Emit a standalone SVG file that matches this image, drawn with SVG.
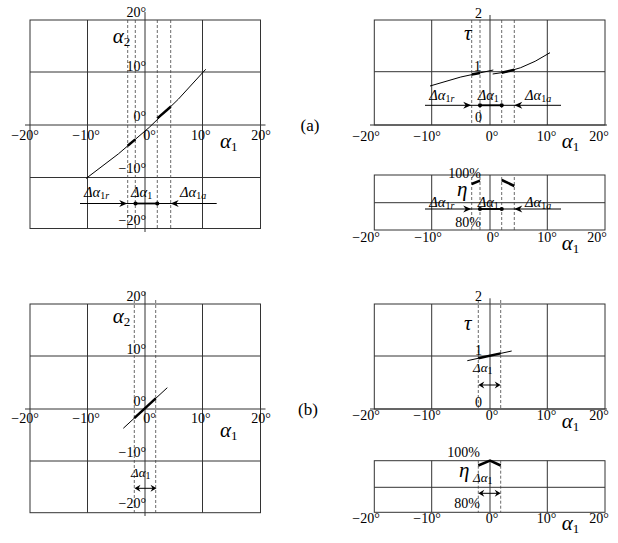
<svg xmlns="http://www.w3.org/2000/svg" xmlns:xlink="http://www.w3.org/1999/xlink" width="618" height="543" viewBox="0 0 618 543">
<style>
.g{stroke:#333;stroke-width:1;fill:none}
.d{stroke:#444;stroke-width:0.8;stroke-dasharray:3,2;fill:none}
.c{stroke:#000;stroke-width:1;fill:none}
.k{stroke:#000;stroke-width:2.5;fill:none}
.m{stroke:#000;stroke-width:1.8;fill:none}
text{font-family:'Liberation Serif','Times New Roman',Times,serif;fill:#000}
.n{font-size:14px}
.pl{font-size:17px}
.gk{font-style:italic;font-size:21px}
.lb{font-style:italic;font-size:14.5px}
.ls{font-style:italic;font-size:13px}
.sub{font-style:normal;font-size:10px}
.subi{font-style:italic;font-size:10px}
.bsub{font-style:normal;font-size:13px}
</style>
<defs>
<path id="ar" d="M0,0 L-8,-3.5 L-5.5,0 L-8,3.5 Z" fill="#000"/>
<path id="sa" d="M0,0 L-6,-3.5 L-4,0 L-6,3.5 Z" fill="#000"/>
</defs>

<!-- Panel a: alpha2 vs alpha1 -->
<g id="panel-a-alpha">
<rect class="g" x="30" y="20" width="230.5" height="208.5"/>
<line class="g" x1="87.5" y1="20" x2="87.5" y2="228.5"/>
<line class="g" x1="202.5" y1="20" x2="202.5" y2="228.5"/>
<line class="g" x1="30" y1="72" x2="260.5" y2="72"/>
<line class="g" x1="30" y1="177.5" x2="260.5" y2="177.5"/>
<line class="g" x1="145" y1="12" x2="145" y2="232"/>
<line class="g" x1="25" y1="125" x2="265.5" y2="125"/>
<line class="d" x1="127.7" y1="20" x2="127.7" y2="228.5"/>
<line class="d" x1="135.3" y1="20" x2="135.3" y2="228.5"/>
<line class="d" x1="157.3" y1="20" x2="157.3" y2="228.5"/>
<line class="d" x1="170.7" y1="20" x2="170.7" y2="228.5"/>
<path class="c" d="M86,178.5 Q152.5,131 205.7,69.3"/>
<line class="k" x1="127.7" y1="145.7" x2="135.3" y2="139.4"/>
<line class="k" x1="157.3" y1="118.4" x2="170.7" y2="106.7"/>
<text class="n" x="146" y="17" text-anchor="end">20°</text>
<text class="n" x="146" y="70.5" text-anchor="end">10°</text>
<text class="n" x="146" y="120.5" text-anchor="end">0°</text>
<text class="n" x="146" y="173" text-anchor="end">−10°</text>
<text class="n" x="146" y="225" text-anchor="end">−20°</text>
<text class="n" x="25" y="140" text-anchor="middle">−20°</text>
<text class="n" x="86" y="140" text-anchor="middle">−10°</text>
<text class="n" x="143.3" y="140">0°</text>
<text class="n" x="200.7" y="140" text-anchor="middle">10°</text>
<text class="n" x="261" y="140" text-anchor="middle">20°</text>
<text class="gk" x="220" y="148">α<tspan class="bsub" dy="3">1</tspan></text>
<text class="gk" x="112.7" y="43">α<tspan class="bsub" dy="3">2</tspan></text>
<line class="c" x1="80" y1="203.5" x2="216.7" y2="203.5"/>
<line class="m" x1="135.5" y1="203.5" x2="157.3" y2="203.5"/>
<use xlink:href="#ar" transform="translate(127.2,203.5)"/>
<use xlink:href="#ar" transform="translate(170.7,203.5) rotate(180)"/>
<circle cx="135.5" cy="203.5" r="2.1"/>
<circle cx="157.3" cy="203.5" r="2.1"/>
<text class="lb" x="84" y="197">Δα<tspan class="sub" dy="2">1</tspan><tspan class="subi">r</tspan></text>
<text class="lb" x="131" y="197">Δα<tspan class="sub" dy="2">1</tspan></text>
<text class="lb" x="180" y="197">Δα<tspan class="sub" dy="2">1</tspan><tspan class="subi">a</tspan></text>
</g>

<text class="pl" x="300.5" y="131">(a)</text>

<!-- Panel a: tau -->
<g id="panel-a-tau">
<rect class="g" x="374.3" y="20" width="230.7" height="105"/>
<line class="g" x1="431.7" y1="20" x2="431.7" y2="125"/>
<line class="g" x1="547.3" y1="20" x2="547.3" y2="125"/>
<line class="g" x1="374.3" y1="71.7" x2="605" y2="71.7"/>
<line class="g" x1="490" y1="15" x2="490" y2="125"/>
<line class="g" x1="370" y1="125" x2="607" y2="125"/>
<line class="d" x1="471.7" y1="20" x2="471.7" y2="125"/>
<line class="d" x1="480" y1="20" x2="480" y2="125"/>
<line class="d" x1="501.7" y1="20" x2="501.7" y2="125"/>
<line class="d" x1="514.3" y1="20" x2="514.3" y2="125"/>
<path class="c" d="M430,86 Q460,76 493.3,70"/>
<path class="c" d="M492.7,74 Q520,72 550,52.7"/>
<line class="k" x1="471.7" y1="74.6" x2="480" y2="73"/>
<line class="k" x1="501.7" y1="72.8" x2="514.3" y2="69.7"/>
<text class="n" x="482" y="18.3" text-anchor="end">2</text>
<text class="n" x="481" y="70.7" text-anchor="end">1</text>
<text class="n" x="482" y="121.7" text-anchor="end">0</text>
<text class="gk" x="464" y="40">τ</text>
<line class="c" x1="425" y1="105.3" x2="561" y2="105.3"/>
<line class="m" x1="480" y1="105.3" x2="501.7" y2="105.3"/>
<use xlink:href="#ar" transform="translate(471.2,105.3)"/>
<use xlink:href="#ar" transform="translate(514.3,105.3) rotate(180)"/>
<circle cx="480" cy="105.3" r="2.1"/>
<circle cx="501.7" cy="105.3" r="2.1"/>
<text class="lb" x="429.3" y="100">Δα<tspan class="sub" dy="2">1</tspan><tspan class="subi">r</tspan></text>
<text class="lb" x="477.7" y="100">Δα<tspan class="sub" dy="2">1</tspan></text>
<text class="lb" x="525" y="100">Δα<tspan class="sub" dy="2">1</tspan><tspan class="subi">a</tspan></text>
<text class="n" x="366" y="141" text-anchor="middle">−20°</text>
<text class="n" x="427" y="141" text-anchor="middle">−10°</text>
<text class="n" x="492" y="141" text-anchor="middle">0°</text>
<text class="n" x="546.5" y="141" text-anchor="middle">10°</text>
<text class="n" x="599" y="141" text-anchor="middle">20°</text>
<text class="gk" x="561.7" y="148.3">α<tspan class="bsub" dy="3">1</tspan></text>
</g>

<!-- Panel a: eta -->
<g id="panel-a-eta">
<rect class="g" x="374.3" y="175" width="230.7" height="55"/>
<line class="g" x1="431.7" y1="175" x2="431.7" y2="230"/>
<line class="g" x1="547.3" y1="175" x2="547.3" y2="230"/>
<line class="g" x1="374.3" y1="202.7" x2="605" y2="202.7"/>
<line class="g" x1="490" y1="175" x2="490" y2="230"/>
<line class="d" x1="471.7" y1="177" x2="471.7" y2="230"/>
<line class="d" x1="480" y1="177" x2="480" y2="230"/>
<line class="d" x1="501.7" y1="177" x2="501.7" y2="230"/>
<line class="d" x1="514.3" y1="177" x2="514.3" y2="230"/>
<line class="k" x1="471.7" y1="184" x2="480" y2="180.7"/>
<line class="k" x1="501.7" y1="180" x2="514.3" y2="186"/>
<text class="n" x="481" y="178.3" text-anchor="end">100%</text>
<text class="n" x="481" y="226.7" text-anchor="end">80%</text>
<text class="gk" x="457" y="195.5">η</text>
<line class="c" x1="425" y1="209" x2="561" y2="209"/>
<line class="m" x1="480" y1="209" x2="501.7" y2="209"/>
<use xlink:href="#ar" transform="translate(471.2,209)"/>
<use xlink:href="#ar" transform="translate(514.3,209) rotate(180)"/>
<circle cx="480" cy="209" r="2.1"/>
<circle cx="501.7" cy="209" r="2.1"/>
<text class="lb" x="429.3" y="206.7">Δα<tspan class="sub" dy="2">1</tspan><tspan class="subi">r</tspan></text>
<text class="lb" x="477.7" y="206.7">Δα<tspan class="sub" dy="2">1</tspan></text>
<text class="lb" x="525" y="206.7">Δα<tspan class="sub" dy="2">1</tspan><tspan class="subi">a</tspan></text>
<text class="n" x="366" y="241.7" text-anchor="middle">−20°</text>
<text class="n" x="428" y="241.7" text-anchor="middle">−10°</text>
<text class="n" x="493" y="241.7" text-anchor="middle">0°</text>
<text class="n" x="547" y="241.7" text-anchor="middle">10°</text>
<text class="n" x="597" y="241.7" text-anchor="middle">20°</text>
<text class="gk" x="561.7" y="250">α<tspan class="bsub" dy="3">1</tspan></text>
</g>

<!-- Panel b: alpha2 vs alpha1 -->
<g id="panel-b-alpha">
<rect class="g" x="30" y="304" width="230.5" height="208.7"/>
<line class="g" x1="87.5" y1="304" x2="87.5" y2="512.7"/>
<line class="g" x1="202.5" y1="304" x2="202.5" y2="512.7"/>
<line class="g" x1="30" y1="356" x2="260.5" y2="356"/>
<line class="g" x1="30" y1="461" x2="260.5" y2="461"/>
<line class="g" x1="145" y1="291.7" x2="145" y2="516"/>
<line class="g" x1="25" y1="409" x2="265.5" y2="409"/>
<line class="d" x1="134.3" y1="300" x2="134.3" y2="512.7"/>
<line class="d" x1="155.7" y1="300" x2="155.7" y2="512.7"/>
<line class="c" x1="123.3" y1="428.3" x2="167.3" y2="387.7"/>
<line class="k" x1="134.3" y1="418.1" x2="155.7" y2="398.4"/>
<text class="n" x="146" y="300.7" text-anchor="end">20°</text>
<text class="n" x="146" y="354" text-anchor="end">10°</text>
<text class="n" x="146" y="405.7" text-anchor="end">0°</text>
<text class="n" x="146" y="456.7" text-anchor="end">−10°</text>
<text class="n" x="146" y="508.3" text-anchor="end">−20°</text>
<text class="n" x="25" y="423.3" text-anchor="middle">−20°</text>
<text class="n" x="86" y="423.3" text-anchor="middle">−10°</text>
<text class="n" x="143.3" y="423.3">0°</text>
<text class="n" x="200.7" y="423.3" text-anchor="middle">10°</text>
<text class="n" x="261" y="423.3" text-anchor="middle">20°</text>
<text class="gk" x="220" y="436.7">α<tspan class="bsub" dy="3">1</tspan></text>
<text class="gk" x="112.7" y="323.3">α<tspan class="bsub" dy="3">2</tspan></text>
<line class="c" x1="137" y1="488.3" x2="154" y2="488.3"/>
<use xlink:href="#sa" transform="translate(134.5,488.3) rotate(180)"/>
<use xlink:href="#sa" transform="translate(156.5,488.3)"/>
<text class="ls" x="131" y="477">Δα<tspan class="sub" font-size="9" dy="2">1</tspan></text>
</g>

<text class="pl" x="298" y="415">(b)</text>

<!-- Panel b: tau -->
<g id="panel-b-tau">
<rect class="g" x="374.3" y="304" width="230.7" height="105"/>
<line class="g" x1="431.7" y1="304" x2="431.7" y2="409"/>
<line class="g" x1="547.3" y1="304" x2="547.3" y2="409"/>
<line class="g" x1="374.3" y1="356" x2="605" y2="356"/>
<line class="g" x1="490" y1="298.3" x2="490" y2="409"/>
<line class="g" x1="370" y1="409" x2="607" y2="409"/>
<line class="d" x1="478.3" y1="300" x2="478.3" y2="409"/>
<line class="d" x1="500.7" y1="300" x2="500.7" y2="409"/>
<line class="c" x1="467.3" y1="360.7" x2="511.7" y2="351"/>
<line class="k" x1="478.3" y1="358.3" x2="500.7" y2="353.4"/>
<text class="n" x="482" y="300.7" text-anchor="end">2</text>
<text class="n" x="482" y="355" text-anchor="end">1</text>
<text class="n" x="482" y="406.7" text-anchor="end">0</text>
<text class="gk" x="464" y="330">τ</text>
<line class="c" x1="480.5" y1="385" x2="498.5" y2="385"/>
<use xlink:href="#sa" transform="translate(478.3,385) rotate(180)"/>
<use xlink:href="#sa" transform="translate(500.7,385)"/>
<text class="ls" x="473" y="371.7">Δα<tspan class="sub" font-size="9" dy="2">1</tspan></text>
<text class="n" x="366" y="420" text-anchor="middle">−20°</text>
<text class="n" x="427" y="420" text-anchor="middle">−10°</text>
<text class="n" x="492" y="420" text-anchor="middle">0°</text>
<text class="n" x="546.5" y="420" text-anchor="middle">10°</text>
<text class="n" x="599" y="420" text-anchor="middle">20°</text>
<text class="gk" x="561.7" y="428.3">α<tspan class="bsub" dy="3">1</tspan></text>
</g>

<!-- Panel b: eta -->
<g id="panel-b-eta">
<rect class="g" x="374.3" y="460.7" width="230.7" height="51.6"/>
<line class="g" x1="431.7" y1="460.7" x2="431.7" y2="512.3"/>
<line class="g" x1="547.3" y1="460.7" x2="547.3" y2="512.3"/>
<line class="g" x1="374.3" y1="487.3" x2="605" y2="487.3"/>
<line class="g" x1="490" y1="460.7" x2="490" y2="512.3"/>
<line class="d" x1="478.3" y1="460.7" x2="478.3" y2="512.3"/>
<line class="d" x1="500.7" y1="460.7" x2="500.7" y2="512.3"/>
<path class="k" d="M478.3,465.5 L490,460.7 L500.7,465.5"/>
<text class="n" x="480" y="457.3" text-anchor="end">100%</text>
<text class="n" x="480" y="508.3" text-anchor="end">80%</text>
<text class="gk" x="459" y="477">η</text>
<line class="c" x1="480.5" y1="493.3" x2="498.5" y2="493.3"/>
<use xlink:href="#sa" transform="translate(478.3,493.3) rotate(180)"/>
<use xlink:href="#sa" transform="translate(500.7,493.3)"/>
<text class="ls" x="473" y="481.7">Δα<tspan class="sub" font-size="9" dy="2">1</tspan></text>
<text class="n" x="366" y="523.3" text-anchor="middle">−20°</text>
<text class="n" x="427" y="523.3" text-anchor="middle">−10°</text>
<text class="n" x="492" y="523.3" text-anchor="middle">0°</text>
<text class="n" x="546.5" y="523.3" text-anchor="middle">10°</text>
<text class="n" x="599" y="523.3" text-anchor="middle">20°</text>
<text class="gk" x="561.7" y="530">α<tspan class="bsub" dy="3">1</tspan></text>
</g>
</svg>
